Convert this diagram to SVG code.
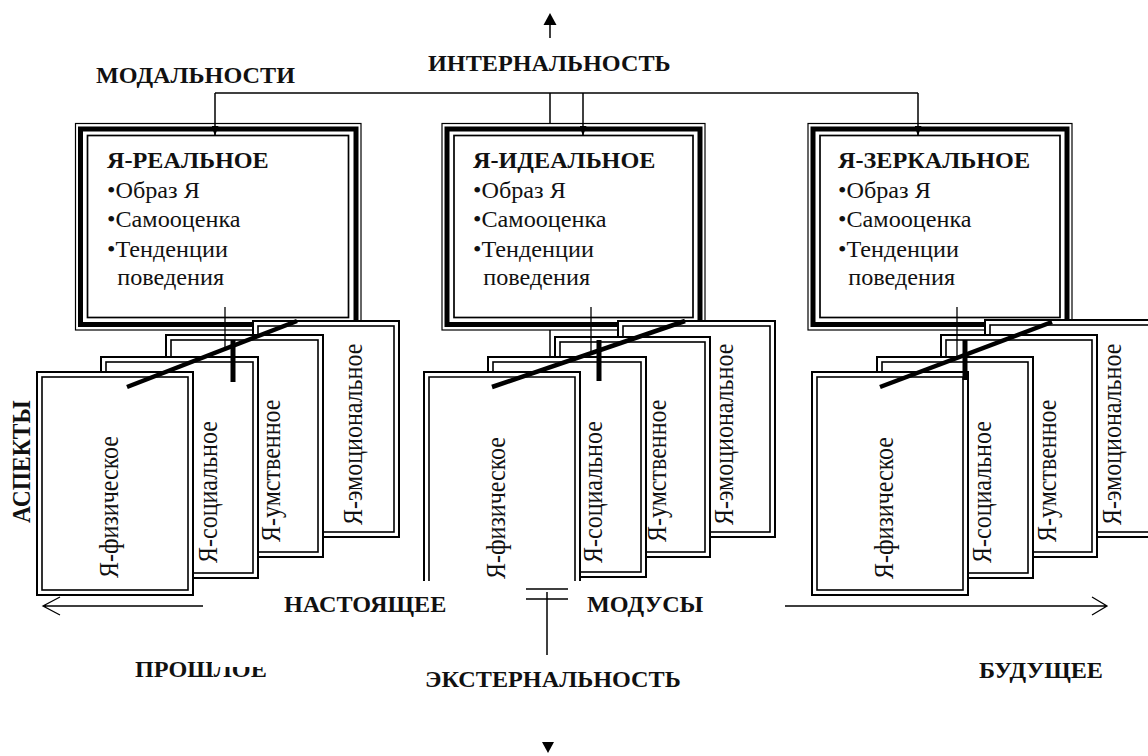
<svg xmlns="http://www.w3.org/2000/svg" width="1148" height="756" viewBox="0 0 1148 756">
<defs>
<style>
text{font-family:"Liberation Serif","Times New Roman",serif;fill:#111}
.b{font-weight:bold;font-size:23.5px}
.t{font-size:23.5px}
.v{font-size:24px}
.fo{fill:none;stroke:#000;stroke-width:1.2}
.fk{fill:none;stroke:#000;stroke-width:5}
.fi{fill:none;stroke:#000;stroke-width:1.7}
.co{fill:#fff;stroke:#000;stroke-width:2}
.ci{fill:none;stroke:#000;stroke-width:1.6}
.ln{fill:none;stroke:#000;stroke-width:1.5}
.thin{fill:none;stroke:#000;stroke-width:1.3}
.thick{fill:none;stroke:#000;stroke-width:4.5}
.thv{fill:none;stroke:#000;stroke-width:5}
</style>
<marker id="ah" viewBox="0 0 10 7" refX="10" refY="3.5" markerWidth="10" markerHeight="7" markerUnits="userSpaceOnUse" orient="auto">
<path d="M0,0 L10,3.5 L0,7 z" fill="#000"/>
</marker>
<clipPath id="clipPast">
<rect x="120" y="640" width="92" height="50"/>
<rect x="212" y="667" width="70" height="20"/>
</clipPath>
</defs>
<rect width="1148" height="756" fill="#fff"/>

<!-- ===== Left stack: Я-РЕАЛЬНОЕ ===== -->
<g id="box-real">
<rect x="75.5" y="123.5" width="285.5" height="206.5" fill="#fff" class="fo"/>
<rect x="80.5" y="129" width="275.5" height="195.5" class="fk"/>
<rect x="87.5" y="135.5" width="261" height="182" class="fi"/>
<g transform="translate(107,0) scale(1.03,1)">
<text class="b" x="0" y="168">Я-РЕАЛЬНОЕ</text>
<text class="t" x="0" y="198">•Образ Я</text>
<text class="t" x="0" y="227">•Самооценка</text>
<text class="t" x="0" y="257">•Тенденции</text>
<text class="t" x="10" y="285">поведения</text>
</g>
</g>
<g id="real-emotional">
<rect x="253" y="321" width="146" height="216" class="co"/>
<rect x="258" y="326" width="136" height="206" class="ci"/>
<text class="v" transform="translate(362,525) scale(1.1,1) rotate(-90)">Я-эмоциональное</text>
</g>
<g id="real-mental">
<rect x="166" y="335" width="157" height="222" class="co"/>
<rect x="171" y="340" width="147" height="212" class="ci"/>
<text class="v" transform="translate(280,542) scale(1.1,1) rotate(-90)">Я-умственное</text>
</g>
<g id="real-social">
<rect x="101" y="357" width="157" height="221" class="co"/>
<rect x="106" y="362" width="147" height="211" class="ci"/>
<text class="v" transform="translate(217,563) scale(1.1,1) rotate(-90)">Я-социальное</text>
</g>
<g id="real-physical">
<rect x="37" y="372" width="156" height="223" class="co"/>
<rect x="42" y="377" width="146" height="213" class="ci"/>
<text class="v" transform="translate(118,578) scale(1.1,1) rotate(-90)">Я-физическое</text>
</g>

<!-- ===== Middle stack: Я-ИДЕАЛЬНОЕ ===== -->
<g id="box-ideal">
<rect x="442" y="123.5" width="263" height="206.5" fill="#fff" class="fo"/>
<rect x="447" y="129" width="253" height="195.5" class="fk"/>
<rect x="454" y="135.5" width="239" height="182" class="fi"/>
<g transform="translate(473,0) scale(1.03,1)">
<text class="b" x="0" y="168">Я-ИДЕАЛЬНОЕ</text>
<text class="t" x="0" y="198">•Образ Я</text>
<text class="t" x="0" y="227">•Самооценка</text>
<text class="t" x="0" y="257">•Тенденции</text>
<text class="t" x="10" y="285">поведения</text>
</g>
</g>
<g id="ideal-emotional">
<rect x="618" y="321" width="157" height="216" class="co"/>
<rect x="623" y="326" width="147" height="206" class="ci"/>
<text class="v" transform="translate(733,525) scale(1.1,1) rotate(-90)">Я-эмоциональное</text>
</g>
<g id="ideal-mental">
<rect x="555" y="337" width="155" height="220" class="co"/>
<rect x="560" y="342" width="145" height="210" class="ci"/>
<text class="v" transform="translate(666,542) scale(1.1,1) rotate(-90)">Я-умственное</text>
</g>
<g id="ideal-social">
<rect x="488" y="357" width="158" height="220" class="co"/>
<rect x="493" y="362" width="148" height="210" class="ci"/>
<text class="v" transform="translate(602,563) scale(1.1,1) rotate(-90)">Я-социальное</text>
</g>
<g id="ideal-physical">
<rect x="424" y="372" width="156" height="209" fill="#fff"/>
<path d="M424,581 V372 H580 V581" fill="none" stroke="#000" stroke-width="2"/>
<path d="M429,581 V377 H575 V581" class="ci"/>
<text class="v" transform="translate(505,579) scale(1.1,1) rotate(-90)">Я-физическое</text>
</g>

<!-- ===== Right stack: Я-ЗЕРКАЛЬНОЕ ===== -->
<g id="box-mirror">
<rect x="808" y="123.5" width="264" height="206.5" fill="#fff" class="fo"/>
<rect x="813" y="129" width="254" height="195.5" class="fk"/>
<rect x="820" y="135.5" width="240" height="182" class="fi"/>
<g transform="translate(838,0) scale(1.03,1)">
<text class="b" x="0" y="168">Я-ЗЕРКАЛЬНОЕ</text>
<text class="t" x="0" y="198">•Образ Я</text>
<text class="t" x="0" y="227">•Самооценка</text>
<text class="t" x="0" y="257">•Тенденции</text>
<text class="t" x="10" y="285">поведения</text>
</g>
</g>
<g id="mirror-emotional">
<rect x="985" y="320" width="180" height="217" class="co"/>
<rect x="990" y="325" width="170" height="207" class="ci"/>
<text class="v" transform="translate(1121,525) scale(1.1,1) rotate(-90)">Я-эмоциональное</text>
</g>
<g id="mirror-mental">
<rect x="941" y="335" width="156" height="222" class="co"/>
<rect x="946" y="340" width="146" height="212" class="ci"/>
<text class="v" transform="translate(1056,542) scale(1.1,1) rotate(-90)">Я-умственное</text>
</g>
<g id="mirror-social">
<rect x="877" y="357" width="156" height="221" class="co"/>
<rect x="882" y="362" width="146" height="211" class="ci"/>
<text class="v" transform="translate(991,563) scale(1.1,1) rotate(-90)">Я-социальное</text>
</g>
<g id="mirror-physical">
<rect x="812" y="372" width="156" height="223" class="co"/>
<rect x="817" y="377" width="146" height="213" class="ci"/>
<text class="v" transform="translate(893,579) scale(1.1,1) rotate(-90)">Я-физическое</text>
</g>

<!-- ===== Connectors ===== -->
<g id="connectors">
<path d="M215,93 H918" class="ln"/>
<path d="M215,93 V136" class="ln" marker-end="url(#ah)"/>
<path d="M583,93 V136" class="ln" marker-end="url(#ah)"/>
<path d="M918,93 V136" class="ln" marker-end="url(#ah)"/>
<path d="M550,93 V124" class="ln"/>
<path d="M550,330 V357" class="ln"/>
<path d="M550,38 V24" class="ln"/>
<polygon points="550,13 556.5,25 543.5,25" fill="#000"/>
<path d="M526,589 H568 M526,599 H568" class="ln"/>
<path d="M547,592 V655" class="ln"/>
<polygon points="542,742 554,742 548,753" fill="#000"/>
<path d="M203,606 H43 M60,597 L43,606 L60,615" class="thin"/>
<path d="M785,606 H1107 M1092,597 L1107,606 L1092,615" class="thin"/>
<path d="M225,307 V349" class="thin"/>
<path d="M233,340 V382" class="thv"/>
<path d="M127,387 L297,321" class="thick"/>
<path d="M591,307 V352" class="thin"/>
<path d="M599,340 V381" class="thv"/>
<path d="M492,387 L685,321" class="thick"/>
<path d="M957,307 V356" class="thin"/>
<path d="M965,340 V380" class="thv"/>
<path d="M880,387 L1052,322" class="thick"/>
</g>

<!-- ===== Labels ===== -->
<g id="labels">
<text class="b" transform="translate(96,83) scale(1.03,1)">МОДАЛЬНОСТИ</text>
<text class="b" transform="translate(428,71) scale(1.03,1)">ИНТЕРНАЛЬНОСТЬ</text>
<text class="b" transform="translate(30,523) scale(1.1,1) rotate(-90)">АСПЕКТЫ</text>
<text class="b" transform="translate(284,612) scale(1.03,1)">НАСТОЯЩЕЕ</text>
<text class="b" transform="translate(587,612) scale(1.03,1)">МОДУСЫ</text>
<g clip-path="url(#clipPast)">
<text class="b" transform="translate(135,677) scale(1.03,1)">ПРОШЛОЕ</text>
</g>
<text class="b" transform="translate(425,687) scale(1.03,1)">ЭКСТЕРНАЛЬНОСТЬ</text>
<text class="b" transform="translate(979,678) scale(1.03,1)">БУДУЩЕЕ</text>
</g>
</svg>
